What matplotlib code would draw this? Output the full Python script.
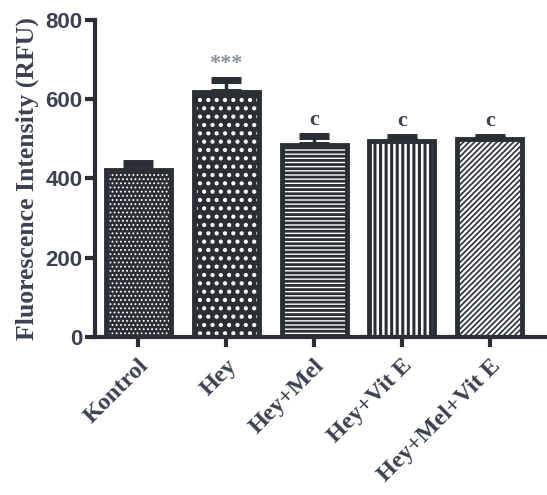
import numpy as np
import matplotlib.pyplot as plt
import matplotlib as mpl

groups = ["Kontrol", "Hey", "Hey+Mel", "Hey+Vit E", "Hey+Mel+Vit E"]
means = [421, 618, 485, 495, 500]
errs = [18, 31, 22, 10, 5]
marks = ["", "***", "c", "c", "c"]

ink = "#2a2e35"
txt = "#3b4150"

# (face, hatch colour, hatch, hatch linewidth)
styles = [
    (ink, "white", "....", 0.8),
    (ink, "white", "..", 1.8),
    ("white", ink, "----", 2.0),
    ("white", ink, "|||", 2.2),
    ("white", ink, "//////", 1.2),
]

fig = plt.figure(figsize=(5.47, 4.95), dpi=100)
ax = fig.add_axes([0.174, 0.319, 0.826, 0.641])

x = np.arange(len(groups))
w = 0.74
for i in range(len(groups)):
    face, hcol, hatch, hlw = styles[i]
    with mpl.rc_context({"hatch.linewidth": hlw}):
        ax.bar(x[i], means[i], w, color=face, edgecolor=hcol, hatch=hatch, linewidth=0, zorder=2)
    ax.bar(x[i], means[i], w, fill=False, edgecolor=ink, linewidth=3.5, zorder=3)

ax.errorbar(x, means, yerr=[np.zeros(len(errs)), errs], fmt="none", ecolor=ink,
            elinewidth=2.5, capsize=11, capthick=5, zorder=1)

for i, m in enumerate(marks):
    if m:
        ax.text(x[i], means[i] + errs[i] + 14, m, ha="center", va="bottom",
                fontsize=16, fontweight="bold", family="Liberation Serif",
                color="#8a8f99" if m == "***" else txt)

ax.set_xlim(-0.49, 4.65)
ax.set_ylim(0, 800)
ax.set_yticks([0, 200, 400, 600, 800])
ax.set_xticks(x)
ax.set_xticklabels(groups, rotation=45, ha="right", rotation_mode="anchor",
                   fontsize=17.5, fontweight="bold", family="Liberation Serif", color=txt)
for lab in ax.get_yticklabels():
    lab.set_fontsize(16)
    lab.set_fontweight("bold")
    lab.set_family("Liberation Sans")
    lab.set_color(txt)
ax.set_ylabel("Fluorescence Intensity (RFU)", fontsize=18.5, fontweight="bold",
              family="Liberation Serif", color=txt, labelpad=5)

for s in ["top", "right"]:
    ax.spines[s].set_visible(False)
for s in ["left", "bottom"]:
    ax.spines[s].set_linewidth(3)
    ax.spines[s].set_color(ink)
ax.tick_params(width=3, length=7, color=ink, pad=2)
ax.tick_params(axis="x", pad=6)

fig.savefig("out.png", dpi=100)
